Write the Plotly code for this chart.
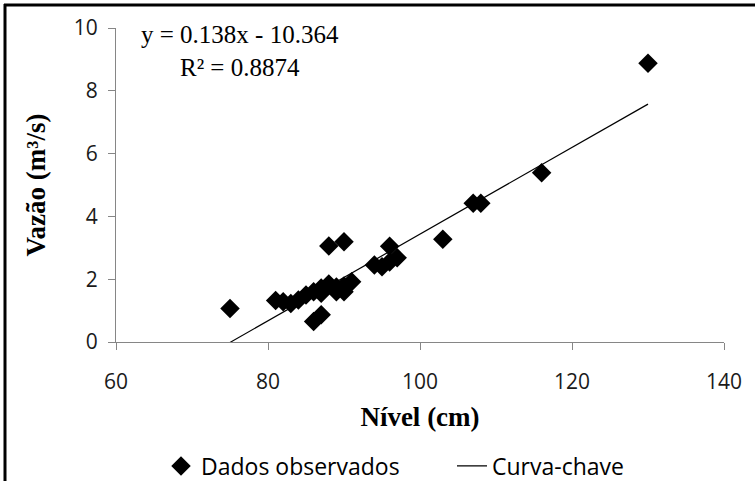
import plotly.graph_objects as go

# Observed data: level (cm) and discharge (m3/s)
nivel = [75, 81, 82, 83, 84, 85, 86, 86, 87, 87, 87, 88, 88, 89, 89, 90, 90, 90, 91,
         94, 95, 96, 96, 97, 103, 107, 108, 116, 130]
vazao = [1.07, 1.32, 1.28, 1.23, 1.34, 1.5, 1.6, 0.65, 0.87, 1.55, 1.72, 1.85, 3.06, 1.75, 1.6,
         1.6, 1.78, 3.19, 1.92, 2.45, 2.4, 3.05, 2.55, 2.68, 3.27, 4.42, 4.42, 5.39, 8.88]

# Fitted rating curve (from chart equation)
slope = 0.138
intercept = -10.364
trend_x = [min(nivel), max(nivel)]
trend_y = [slope * x + intercept for x in trend_x]

x_ticks = [60, 80, 100, 120, 140]
y_ticks = [0, 2, 4, 6, 8, 10]

W, H = 755, 481
L, R, T, B = 116, 31, 28, 139
PW, PH = W - L - R, H - T - B


def px(xp):
    return (xp - L) / PW


def py(yp):
    return (H - B - yp) / PH


fig = go.Figure()
fig.add_trace(go.Scatter(
    x=nivel, y=vazao, mode="markers", name="Dados observados",
    marker=dict(symbol="diamond", size=15, color="black", line=dict(width=0)),
))
fig.add_trace(go.Scatter(
    x=trend_x, y=trend_y, mode="lines", name="Curva-chave",
    line=dict(color="black", width=1.2),
))

axis_common = dict(
    showline=True, linecolor="#868686", linewidth=1,
    ticks="outside", tickcolor="#868686", ticklen=7,
    showgrid=False, zeroline=False, automargin=False,
    tickfont=dict(family="Open Sans, Liberation Sans", size=21, color="#1a1a1a"),
)

fig.update_layout(
    width=W, height=H,
    margin=dict(l=L, r=R, t=T, b=B, autoexpand=False),
    paper_bgcolor="white", plot_bgcolor="white",
    showlegend=True,
    legend=dict(
        orientation="h", xref="container", yref="container",
        x=452 / W, xanchor="center", y=1 - 466 / H, yanchor="middle",
        font=dict(family="Open Sans, Liberation Sans", size=23, color="black"),
        itemwidth=30, tracegroupgap=0,
        entrywidth=246, entrywidthmode="pixels",
    ),
    xaxis=dict(
        range=[60, 140], tickvals=x_ticks, ticktext=[str(v) for v in x_ticks],
        ticklabelstandoff=14,
        title=dict(text="<b>Nível (cm)</b>", standoff=12,
                   font=dict(family="Liberation Serif", size=27, color="black")),
        **axis_common,
    ),
    yaxis=dict(
        range=[0, 10], tickvals=y_ticks, ticktext=[str(v) for v in y_ticks],
        ticklabelstandoff=6,
        title=dict(text="<b>Vazão (m³/s)</b>", standoff=20,
                   font=dict(family="Liberation Serif", size=27, color="black")),
        **axis_common,
    ),
)

fig.add_annotation(
    text="y = 0.138x - 10.364<br>R² = 0.8874",
    xref="paper", yref="paper", x=px(240), y=py(19),
    xanchor="center", yanchor="top", showarrow=False, align="center",
    font=dict(family="Liberation Serif", size=25, color="black"),
)

# chart border (left and top edges visible)
fig.add_shape(type="line", xref="paper", yref="paper",
              x0=px(5), x1=px(5), y0=py(H), y1=py(4),
              line=dict(color="black", width=3))
fig.add_shape(type="line", xref="paper", yref="paper",
              x0=px(4), x1=px(W), y0=py(5), y1=py(5),
              line=dict(color="black", width=3))

fig.write_html("out.html", config={"displayModeBar": False},
               post_script="document.body.style.margin='0';")
